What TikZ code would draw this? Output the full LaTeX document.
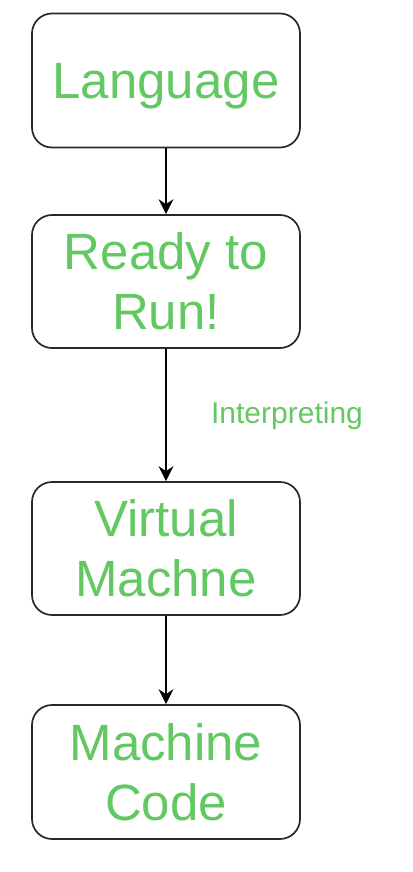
\documentclass[tikz,border=0pt]{standalone}
\usepackage{fontspec}
\setmainfont{Liberation Sans}
\usetikzlibrary{arrows.meta}
\definecolor{txtgreen}{RGB}{98,200,98}
\definecolor{edgegray}{RGB}{40,40,40}
\begin{document}
\begin{tikzpicture}[x=1pt,y=-1pt,
  stepbox/.style={draw=edgegray, line width=1.7pt, rounded corners=20pt,
    minimum width=268pt, minimum height=134pt, inner sep=0pt, align=center,
    text=txtgreen, font=\fontsize{51}{60}\selectfont},
  flow/.style={draw=black, line width=1.6pt, -{Stealth[length=15pt,width=15pt,inset=5pt]}},
  lbl/.style={text=txtgreen, font=\fontsize{30}{36}\selectfont, inner sep=0pt}]
\useasboundingbox (0,0) rectangle (412,872);
\node[stepbox, text depth=0pt] (lang) at (166,80.5) {Language};
\node[stepbox, minimum height=133pt] (ready) at (166,281.5) {Ready to\\Run!};
\node[stepbox, minimum height=133pt] (vm) at (166,548.5) {Virtual\\Machne};
\node[stepbox] (mc) at (166,772) {Machine\\Code};
\draw[flow] (lang) -- (ready);
\draw[flow] (ready) -- (vm);
\draw[flow] (vm) -- (mc);
\node[lbl] (interp) at (287,416) {Interpreting};
\end{tikzpicture}
\end{document}
